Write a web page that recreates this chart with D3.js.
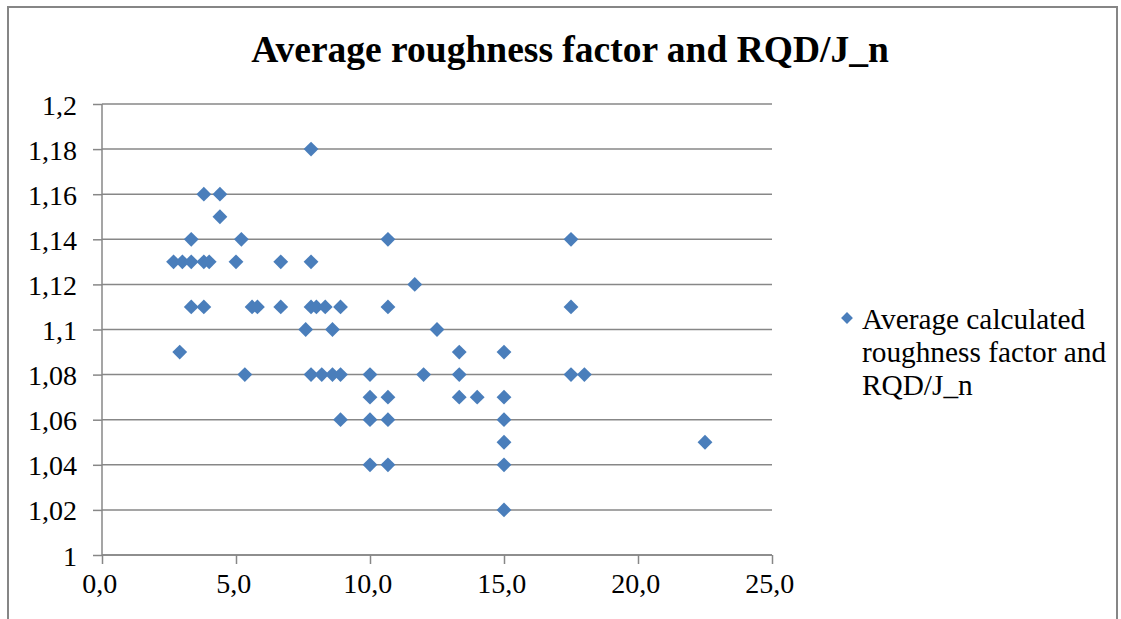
<!DOCTYPE html>
<html><head><meta charset="utf-8">
<script src="https://cdn.jsdelivr.net/npm/d3@7"></script>
<style>
html,body{margin:0;padding:0;background:#fff;}
svg{display:block;}
text{font-family:"Liberation Serif","Times New Roman",serif;fill:#000;}
</style></head>
<body>
<svg id="chart" width="1121" height="619"></svg>
<script>
const title = "Average roughness factor and RQD/J_n";
const seriesName = ["Average calculated", "roughness factor and", "RQD/J_n"];
const xTicks = [0, 5, 10, 15, 20, 25];
const yTicks = [1, 1.02, 1.04, 1.06, 1.08, 1.1, 1.12, 1.14, 1.16, 1.18, 1.2];
const xValues = [
  7.8,
  3.8, 4.4,
  4.4,
  3.33, 5.2, 10.67, 17.5,
  2.67, 3.0, 3.33, 3.8, 4.0, 5.0, 6.67, 7.8,
  11.67,
  3.33, 3.8, 5.6, 5.8, 6.67, 7.8, 8.0, 8.33, 8.9, 10.67, 17.5,
  7.6, 8.6, 12.5,
  2.9, 13.33, 15.0,
  5.33, 7.8, 8.2, 8.6, 8.9, 10.0, 12.0, 13.33, 17.5, 18.0,
  10.0, 10.67, 13.33, 14.0, 15.0,
  8.9, 10.0, 10.67, 15.0,
  15.0, 22.5,
  10.0, 10.67, 15.0,
  15.0
];
const yValues = [
  1.18,
  1.16, 1.16,
  1.15,
  1.14, 1.14, 1.14, 1.14,
  1.13, 1.13, 1.13, 1.13, 1.13, 1.13, 1.13, 1.13,
  1.12,
  1.11, 1.11, 1.11, 1.11, 1.11, 1.11, 1.11, 1.11, 1.11, 1.11, 1.11,
  1.10, 1.10, 1.10,
  1.09, 1.09, 1.09,
  1.08, 1.08, 1.08, 1.08, 1.08, 1.08, 1.08, 1.08, 1.08, 1.08,
  1.07, 1.07, 1.07, 1.07, 1.07,
  1.06, 1.06, 1.06, 1.06,
  1.05, 1.05,
  1.04, 1.04, 1.04,
  1.02
];

(function () {
const svg = d3.select("#chart");
const pL = 102, pR = 772, pT = 104, pB = 555;
const color = "#4A7EBB";
const gridColor = "#878787";
const serif = '"Liberation Serif","Times New Roman",serif';

// outer border
svg.append("rect").attr("x", 8).attr("y", 7).attr("width", 1109).attr("height", 640)
  .attr("fill", "#fff").attr("stroke", "#868686").attr("stroke-width", 2);

const x = d3.scaleLinear().domain([0, 25]).range([pL, pR]);
const y = d3.scaleLinear().domain([1, 1.2]).range([pB, pT]);

// gridlines
svg.append("g").selectAll("line").data(yTicks).join("line")
  .attr("x1", pL).attr("x2", pR)
  .attr("y1", d => y(d)).attr("y2", d => y(d))
  .attr("stroke", gridColor).attr("stroke-width", 1.5);

// y axis
const yAxis = d3.axisLeft(y).tickValues(yTicks).tickSize(9).tickPadding(16)
  .tickFormat(d => String(+d.toFixed(2)).replace(".", ","));
const gy = svg.append("g").attr("transform", `translate(${pL},0)`).call(yAxis);
gy.select(".domain").attr("stroke", gridColor).attr("stroke-width", 1.5).attr("d", `M0,${pT}V${pB}`);
gy.selectAll(".tick line").attr("stroke", gridColor).attr("stroke-width", 1.5);
gy.selectAll(".tick text").attr("font-family", serif)
  .attr("font-size", 28).attr("fill", "#000").attr("dy", "0.36em");

// x axis
const xAxis = d3.axisBottom(x).tickValues(xTicks).tickSize(9).tickPadding(9)
  .tickFormat(d => d.toFixed(1).replace(".", ","));
const gx = svg.append("g").attr("transform", `translate(0,${pB})`).call(xAxis);
gx.select(".domain").attr("stroke", gridColor).attr("stroke-width", 1.5).attr("d", `M${pL},0H${pR}`);
gx.selectAll(".tick line").attr("stroke", gridColor).attr("stroke-width", 1.5);
gx.selectAll(".tick text").attr("font-family", serif)
  .attr("font-size", 28).attr("fill", "#000").attr("dx", "-0.1em");

// points
const pts = xValues.map((v, i) => ({x: v, y: yValues[i]}));
const diamond = d3.symbol().type(d3.symbolSquare).size(110);
svg.append("g").selectAll("path").data(pts).join("path")
  .attr("d", diamond)
  .attr("transform", d => `translate(${x(d.x)},${y(d.y)}) rotate(45)`)
  .attr("fill", color);

// title
svg.append("text").attr("x", 570).attr("y", 62).attr("text-anchor", "middle")
  .attr("font-size", 37.5).attr("font-weight", "bold").text(title);

// legend
svg.append("path").attr("d", d3.symbol().type(d3.symbolSquare).size(70))
  .attr("transform", "translate(847,318) rotate(45)").attr("fill", color);
const lg = svg.append("text").attr("font-size", 29.3);
seriesName.forEach((s, i) => {
  lg.append("tspan").attr("x", 862).attr("y", 329 + i * 33).text(s);
});
})();
</script>
</body></html>
